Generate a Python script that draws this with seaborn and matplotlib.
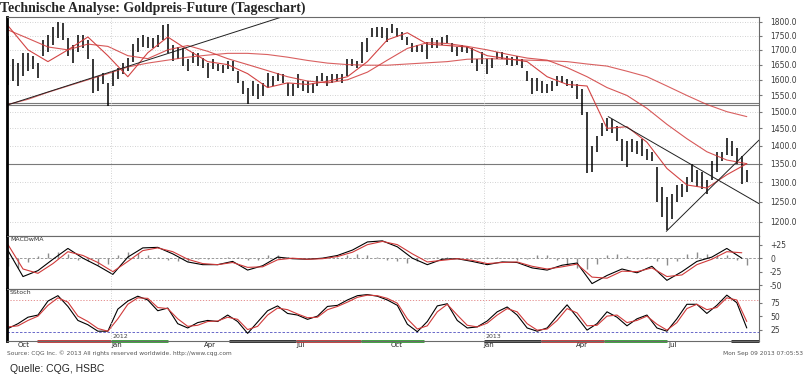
import matplotlib
matplotlib.use("Agg")
import matplotlib.pyplot as plt
import matplotlib.transforms as mtrans
from matplotlib.ticker import NullLocator, NullFormatter
import pandas as pd
import seaborn as sns

# daily bars, sampled every ~3.5 trading days (high / low)
hi = [1750, 1670, 1656, 1688, 1688, 1680, 1656, 1734, 1752, 1780, 1800, 1795, 1741, 1716, 1752, 1752,
      1734, 1670, 1613, 1622, 1590, 1629, 1640, 1656, 1673, 1720, 1741, 1752, 1745, 1741, 1752, 1788,
      1790, 1716, 1709, 1705, 1670, 1691, 1688, 1673, 1656, 1670, 1653, 1650, 1663, 1663, 1629, 1596,
      1574, 1596, 1587, 1590, 1622, 1613, 1622, 1619, 1590, 1587, 1619, 1596, 1596, 1590, 1613, 1622,
      1613, 1619, 1619, 1619, 1670, 1670, 1663, 1727, 1741, 1777, 1780, 1781, 1777, 1790, 1777, 1763,
      1745, 1723, 1716, 1716, 1727, 1741, 1734, 1745, 1752, 1723, 1709, 1716, 1709, 1705, 1670, 1691,
      1670, 1673, 1691, 1691, 1680, 1675, 1680, 1670, 1629, 1606, 1606, 1596, 1587, 1596, 1613, 1613,
      1603, 1596, 1587, 1570, 1500, 1398, 1427, 1465, 1480, 1477, 1456, 1418, 1412, 1418, 1412, 1418,
      1390, 1383, 1342, 1288, 1263, 1270, 1293, 1296, 1315, 1350, 1334, 1328, 1307, 1356, 1383, 1383,
      1421, 1412, 1393, 1370, 1334]
lo = [1582, 1596, 1580, 1613, 1629, 1636, 1606, 1680, 1691, 1716, 1741, 1734, 1680, 1656, 1691, 1705,
      1670, 1558, 1564, 1587, 1517, 1580, 1603, 1619, 1629, 1660, 1691, 1709, 1705, 1705, 1709, 1734,
      1688, 1663, 1670, 1646, 1629, 1656, 1646, 1640, 1606, 1636, 1629, 1622, 1636, 1629, 1590, 1555,
      1523, 1549, 1539, 1549, 1574, 1580, 1596, 1590, 1549, 1549, 1574, 1564, 1558, 1558, 1580, 1596,
      1580, 1590, 1596, 1590, 1613, 1646, 1640, 1656, 1691, 1745, 1745, 1741, 1727, 1759, 1745, 1734,
      1716, 1691, 1691, 1691, 1670, 1705, 1705, 1716, 1723, 1691, 1680, 1691, 1688, 1656, 1629, 1653,
      1619, 1640, 1670, 1668, 1650, 1645, 1650, 1640, 1596, 1555, 1564, 1558, 1558, 1564, 1580, 1590,
      1580, 1574, 1539, 1490, 1325, 1328, 1383, 1427, 1441, 1436, 1412, 1356, 1342, 1383, 1378, 1370,
      1361, 1356, 1250, 1212, 1180, 1207, 1250, 1263, 1275, 1302, 1288, 1283, 1270, 1307, 1328, 1356,
      1375, 1370, 1348, 1296, 1302]

# moving averages, read every 4th bar
ma20 = [1785, 1700, 1660, 1700, 1745, 1680, 1610, 1690, 1745, 1700, 1660, 1650, 1620, 1575, 1590, 1585,
        1595, 1610, 1660, 1735, 1760, 1720, 1715, 1710, 1680, 1670, 1660, 1610, 1585, 1580, 1450, 1455,
        1410, 1337, 1293, 1285, 1320, 1350]
ma50 = [1770, 1740, 1710, 1700, 1720, 1712, 1680, 1670, 1700, 1715, 1695, 1670, 1650, 1630, 1610, 1596,
        1590, 1600, 1625, 1665, 1705, 1725, 1722, 1712, 1700, 1685, 1672, 1665, 1640, 1610, 1575, 1550,
        1510, 1462, 1420, 1383, 1360, 1350]
ma200 = [1522, 1538, 1560, 1580, 1600, 1620, 1642, 1655, 1665, 1675, 1682, 1688, 1688, 1684, 1675, 1664,
         1655, 1650, 1648, 1648, 1652, 1656, 1660, 1668, 1670, 1668, 1665, 1663, 1660, 1652, 1645, 1628,
         1610, 1580, 1550, 1522, 1500, 1485]

# MACD, every 3rd bar
macd = [14, -34, -23, -2, 18, 0, -14, -30, 2, 19, 20, 8, -7, -12, -12, -6, -22, -14, 2, -1, -2, 0, 5, 15,
        30, 32, 21, 0, -12, -2, -1, -6, -12, -7, -8, -18, -22, -13, -9, -47, -32, -20, -27, -15, -41,
        -25, -6, 2, 18, 0]
signal = [25, -20, -28, -10, 12, 5, -8, -25, -6, 14, 19, 12, -2, -10, -12, -8, -17, -16, -3, 0, -2, -1,
          3, 11, 25, 31, 25, 8, -7, -4, -1, -4, -10, -8, -7, -15, -20, -16, -11, -35, -37, -24, -25, -18,
          -34, -31, -12, -2, 12, 10]
# histogram, every 2nd bar
hist = [-15, -18, -8, 4, 9, 12, 8, -3, -5, -12, -10, 6, 11, 10, 5, 2, -3, -6, -5, -2, -1, 0, 2, 3, -4,
        -3, 5, 5, 2, 1, 0, 1, 3, 3, 5, 7, 6, 3, -3, -6, -9, -6, -2, 3, 2, 1, -1, -2, 2, 3, 1, -3, -2, 5,
        5, -3, -12, -18, -20, -10, 6, 8, 4, -2, 3, -5, -12, -6, 8, 12, 8, 5, 5, -3, -12]

# slow stochastics, every 2nd bar
stoch_k = [27, 36, 48, 52, 78, 88, 68, 42, 34, 22, 22, 63, 78, 87, 80, 60, 65, 36, 28, 38, 42, 40, 52, 40,
           18, 39, 60, 69, 55, 52, 44, 50, 68, 70, 80, 88, 90, 87, 80, 70, 35, 21, 40, 69, 73, 42, 28, 30,
           41, 58, 67, 52, 28, 22, 28, 50, 71, 48, 24, 36, 58, 48, 32, 45, 52, 28, 22, 45, 72, 72, 55, 70,
           89, 75, 28]
stoch_d = [30, 32, 42, 50, 70, 84, 76, 50, 40, 27, 22, 45, 72, 84, 83, 66, 64, 45, 31, 33, 40, 41, 48, 44,
           25, 31, 52, 65, 62, 54, 47, 48, 62, 68, 76, 85, 89, 88, 83, 74, 45, 26, 32, 58, 72, 52, 33, 30,
           37, 52, 64, 58, 36, 24, 26, 42, 64, 56, 32, 33, 50, 52, 38, 42, 50, 35, 24, 38, 64, 72, 62, 66,
           84, 80, 40]

price_ticks = [1200, 1250, 1300, 1350, 1400, 1450, 1500, 1550, 1600, 1650, 1700, 1750, 1800]
macd_ticks = [25, 0, -25, -50]
macd_labels = ['+25', '0', '-25', '-50']
stoch_ticks = [75, 50, 25]
month_dates = ['2011-10-01', '2012-01-01', '2012-04-01', '2012-07-01', '2012-10-01', '2013-01-01',
               '2013-04-01', '2013-07-01']
month_labels = ['Oct', 'Jan', 'Apr', 'Jul', 'Oct', 'Jan', 'Apr', 'Jul']
year_dates = ['2012-01-01', '2013-01-01']
year_labels = ['2012', '2013']

# trend lines and levels drawn on the chart
up_line = (['2011-09-21', '2012-07-04'], [1520, 1838])
down_line = (['2013-05-03', '2013-09-28'], [1485, 1245])
low_line = (['2013-06-29', '2013-09-28'], [1177, 1416])
support = [1527, 1521]
pivot = 1348

strip = [('2011-10-20', '2012-01-01', '#c03030'), ('2012-01-01', '2012-02-26', '#2e9a2e'),
         ('2012-04-26', '2012-07-01', '#202020'), ('2012-07-01', '2012-09-02', '#c03030'),
         ('2012-09-02', '2012-11-03', '#2e9a2e'), ('2013-01-01', '2013-02-26', '#202020'),
         ('2013-02-26', '2013-04-29', '#c03030'), ('2013-04-29', '2013-06-30', '#2e9a2e'),
         ('2013-09-01', '2013-09-28', '#202020')]

dates = pd.date_range('2011-09-22', '2013-09-16', periods=len(hi))
df_ma = pd.DataFrame({'date': dates[::4], 'ma20': ma20, 'ma50': ma50, 'ma200': ma200})
df_macd = pd.DataFrame({'date': dates[::3], 'macd': macd, 'signal': signal})
df_st = pd.DataFrame({'date': dates[::2], 'k': stoch_k, 'd': stoch_d, 'hist': hist})

sns.set_style("white")
plt.rcParams['font.family'] = ['DejaVu Sans']

fig = plt.figure(figsize=(8.09, 3.76), dpi=100)
W, H = 809, 376
left, width = 7 / W, 752 / W
ax1 = fig.add_axes([left, 1 - 236 / H, width, 219 / H])
ax2 = fig.add_axes([left, 1 - 289 / H, width, 53 / H])
ax3 = fig.add_axes([left, 1 - 341 / H, width, 52 / H])
xlim = (pd.Timestamp('2011-09-21'), pd.Timestamp('2013-09-28'))

red = '#d03a3a'
grid = '#c4c4c4'

# price panel
ax1.set_yscale('log')
for t in price_ticks:
    ax1.axhline(t, color=grid, lw=0.6, ls=(0, (1, 2)))
for s in support:
    ax1.axhline(s, color='#7a7a7a', lw=0.8)
ax1.axhline(pivot, color='#7a7a7a', lw=0.8)
ax1.vlines(dates, lo, hi, color='black', lw=1.1)
for col, a in [('ma20', 0.95), ('ma50', 0.85), ('ma200', 0.8)]:
    sns.lineplot(data=df_ma, x='date', y=col, ax=ax1, color=red, lw=0.8, alpha=a)
for d, v in [up_line, down_line, low_line]:
    ax1.plot(pd.to_datetime(d), v, color='#202020', lw=0.7)
ax1.set_ylim(1166, 1817)
ax1.set_yticks(price_ticks)
ax1.set_yticklabels([f'{t:.1f}' for t in price_ticks])
ax1.yaxis.set_minor_locator(NullLocator())
ax1.yaxis.set_minor_formatter(NullFormatter())

# MACD panel
ax2.axhline(0, color='#8a8a8a', lw=0.6, ls=(0, (3, 2)))
ax2.vlines(df_st['date'], 0, df_st['hist'], color='#8c8c8c', lw=1.0)
sns.lineplot(data=df_macd, x='date', y='macd', ax=ax2, color='black', lw=0.8)
sns.lineplot(data=df_macd, x='date', y='signal', ax=ax2, color=red, lw=0.8)
ax2.set_ylim(-57, 41)
ax2.set_yticks(macd_ticks)
ax2.set_yticklabels(macd_labels)
ax2.text(0.004, 0.98, 'MACDwMA', transform=ax2.transAxes, fontsize=4.5, va='top', color='#333333')

# stochastics panel
ax3.axhline(80, color='#e08080', lw=0.6, ls=(0, (1.5, 2)))
ax3.axhline(20, color='#5050c0', lw=0.6, ls=(0, (3, 2)))
sns.lineplot(data=df_st, x='date', y='k', ax=ax3, color='black', lw=0.8)
sns.lineplot(data=df_st, x='date', y='d', ax=ax3, color=red, lw=0.8)
ax3.set_ylim(3.8, 100.4)
ax3.set_yticks(stoch_ticks)
ax3.text(0.004, 0.98, 'SStoch', transform=ax3.transAxes, fontsize=4.5, va='top', color='#333333')
tr = mtrans.blended_transform_factory(ax3.transData, ax3.transAxes)
for d, lab in zip(year_dates, year_labels):
    ax3.text(pd.Timestamp(d) + pd.Timedelta(days=2), 0.03, lab, transform=tr, fontsize=4.5,
             color='#444444', va='bottom')
for s, e, c in strip:
    ax3.plot(pd.to_datetime([s, e]), [0, 0], transform=tr, color=c, lw=2, clip_on=False,
             solid_capstyle='butt')

for ax in (ax1, ax2, ax3):
    ax.set_xlim(*xlim)
    for d in year_dates:
        ax.axvline(pd.Timestamp(d), color=grid, lw=0.6, ls=(0, (1, 2)))
    ax.set_xlabel('')
    ax.set_ylabel('')
    ax.yaxis.tick_right()
    ax.tick_params(axis='y', labelsize=5.5, labelcolor='#3a3a3a', length=2, pad=6, color='#777777')
    ax.spines['left'].set_color('black')
    ax.spines['left'].set_linewidth(2)
    for sp in ('top', 'right', 'bottom'):
        ax.spines[sp].set_color('#6a6a6a')
        ax.spines[sp].set_linewidth(0.8)

for ax in (ax1, ax2):
    ax.set_xticks([])
ax3.set_xticks(pd.to_datetime(month_dates))
ax3.set_xticklabels(month_labels, ha='left')
ax3.tick_params(axis='x', labelsize=5, labelcolor='#222222', length=2, pad=0.8, direction='in',
                color='#444444')

fig.text(0.0, 1 - 8 / H, 'Technische Analyse: Goldpreis-Future (Tageschart)', fontsize=10,
         family='Liberation Serif', weight='bold', va='center', ha='left')
fig.text(7 / W, 1 - 353.5 / H, 'Source: CQG Inc. \u00a9 2013 All rights reserved worldwide. http://www.cqg.com',
         fontsize=4.2, color='#555555', va='center')
fig.text(803 / W, 1 - 353.5 / H, 'Mon Sep 09 2013 07:05:53', fontsize=4.2, color='#555555', va='center',
         ha='right')
fig.text(10 / W, 1 - 369 / H, 'Quelle: CQG, HSBC', fontsize=7.5, family='Liberation Sans', va='center')

fig.savefig('out.png', dpi=100)
